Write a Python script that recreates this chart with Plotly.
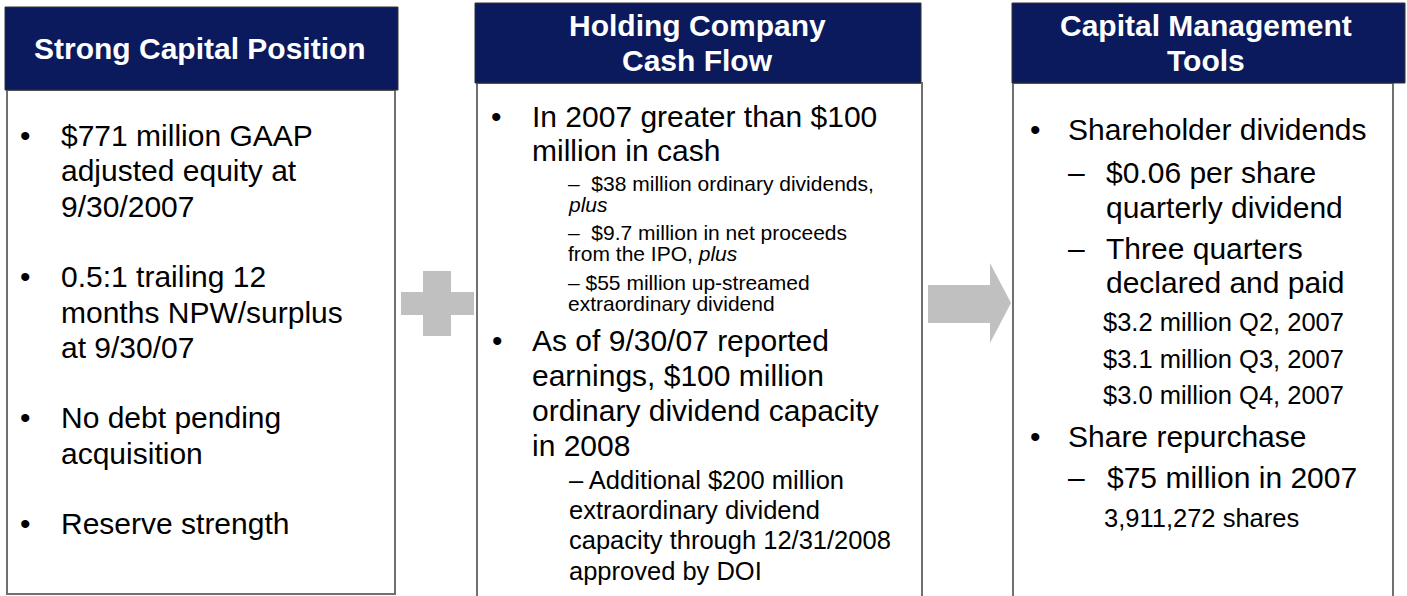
import plotly.graph_objects as go

W, H = 1407, 596
FONT = "Liberation Sans, Arial, sans-serif"
NAVY = "#0a1a5c"
GRAY_SYMBOL = "#c0c0c0"

# ---------------- text content ----------------
box1_title = ["Strong Capital Position"]
box1_items = [
    ["$771 million GAAP", "adjusted equity at", "9/30/2007"],
    ["0.5:1 trailing 12", "months NPW/surplus", "at 9/30/07"],
    ["No debt pending", "acquisition"],
    ["Reserve strength"],
]

box2_title = ["Holding Company", "Cash Flow"]
box2_main_a = ["In 2007 greater than $100", "million in cash"]
box2_subs_a = [
    ["\u2013\u00a0\u00a0$38 million ordinary dividends,", "<i>plus</i>"],
    ["\u2013\u00a0\u00a0$9.7 million in net proceeds", "from the IPO, <i>plus</i>"],
    ["\u2013 $55 million up-streamed", "extraordinary dividend"],
]
box2_main_b = ["As of 9/30/07 reported", "earnings, $100 million",
               "ordinary dividend capacity", "in 2008"]
box2_sub_b = ["\u2013 Additional $200 million", "extraordinary dividend",
              "capacity through 12/31/2008", "approved by DOI"]

box3_title = ["Capital Management", "Tools"]
box3_main_a = ["Shareholder dividends"]
box3_subs_a = [["$0.06 per share", "quarterly dividend"],
               ["Three quarters", "declared and paid"]]
box3_notes_a = ["$3.2 million Q2, 2007", "$3.1 million Q3, 2007", "$3.0 million Q4, 2007"]
box3_main_b = ["Share repurchase"]
box3_subs_b = [["$75 million in 2007"]]
box3_notes_b = ["3,911,272 shares"]

# ---------------- helpers ----------------
shapes = []
anns = []


def rect(x0, y0, x1, y1, fill, line_color=None, line_width=0):
    shapes.append(dict(type="rect", xref="x", yref="y", x0=x0, y0=y0, x1=x1, y1=y1,
                       fillcolor=fill, line=dict(color=line_color or fill, width=line_width),
                       layer="above"))


def text(x, y, s, size, anchor="left", color="black", bold=False):
    anns.append(dict(x=x, y=y, xref="x", yref="y",
                     text=f"<b>{s}</b>" if bold else s,
                     showarrow=False, xanchor=anchor, yanchor="middle",
                     align=anchor if anchor != "center" else "center",
                     font=dict(family=FONT, size=size, color=color),
                     borderpad=0, borderwidth=0))


def lines(x, y0, items, step, size):
    for i, s in enumerate(items):
        text(x, y0 + i * step, s, size)


def bullet(x, y, size=30):
    text(x, y, "\u2022", size, anchor="center")


def dash(x, y, size=30):
    text(x, y, "\u2013", size, anchor="left")


# ---------------- boxes ----------------
BODY_LINE = "#707070"
# body panels
rect(7, 90, 395, 594, "white", BODY_LINE, 2)
rect(477, 83, 922, 600, "white", BODY_LINE, 2)
rect(1013, 83, 1393, 600, "white", BODY_LINE, 2)
# headers
rect(5, 7, 398, 90, NAVY, "#333333", 1)
rect(475, 3, 921, 83, NAVY, "#333333", 1)
rect(1012, 3, 1405, 83, NAVY, "#333333", 1)

# plus sign
rect(401, 292, 474, 315, GRAY_SYMBOL)
rect(423, 271, 451, 336, GRAY_SYMBOL)
# arrow
shapes.append(dict(type="path", xref="x", yref="y",
                   path="M 928 285 L 990 285 L 990 263 L 1011 303 L 990 343 L 990 323 L 928 323 Z",
                   fillcolor=GRAY_SYMBOL, line=dict(width=0), layer="above"))

# ---------------- header texts ----------------
text(200, 48, box1_title[0], 30, anchor="center", color="white", bold=True)
for i, s in enumerate(box2_title):
    text(697, 25 + i * 35, s, 30, anchor="center", color="white", bold=True)
for i, s in enumerate(box3_title):
    text(1206, 25 + i * 35, s, 30, anchor="center", color="white", bold=True)

# ---------------- box 1 ----------------
STEP = 35.3
y = 135.5
for item in box1_items:
    bullet(25, y)
    lines(61, y, item, STEP, 30)
    y += (len(item) + 1) * STEP

# ---------------- box 2 ----------------
bullet(496, 116)
lines(532, 116, box2_main_a, 34.5, 30)
for y0, sub in zip([183, 232.5, 282.5], box2_subs_a):
    lines(568, y0, sub, 21.3, 21)
bullet(497, 340)
lines(532, 340, box2_main_b, 35.3, 30)
lines(569, 480, box2_sub_b, 30.2, 25.5)

# ---------------- box 3 ----------------
bullet(1035, 129.5)
lines(1068, 129.5, box3_main_a, 35, 30)
for y0, sub in zip([172.5, 248], box3_subs_a):
    dash(1068, y0)
    lines(1106, y0, sub, 34.8, 30)
lines(1103, 322, box3_notes_a, 36.5, 25.5)
bullet(1035, 436)
lines(1068, 436, box3_main_b, 35, 30)
for y0, sub in zip([477.5], box3_subs_b):
    dash(1068, y0)
    lines(1107, y0, sub, 35, 30)
lines(1104, 517.5, box3_notes_b, 36.5, 25.5)

fig = go.Figure()
fig.update_layout(
    width=W, height=H,
    margin=dict(l=0, r=0, t=0, b=0),
    paper_bgcolor="white", plot_bgcolor="white",
    xaxis=dict(range=[0, W], visible=False, fixedrange=True),
    yaxis=dict(range=[H, 0], visible=False, fixedrange=True),
    shapes=shapes, annotations=anns, showlegend=False,
)
fig.write_html("out.html", config={"displayModeBar": False},
               post_script="document.body.style.margin='0';document.body.style.overflow='hidden';")
